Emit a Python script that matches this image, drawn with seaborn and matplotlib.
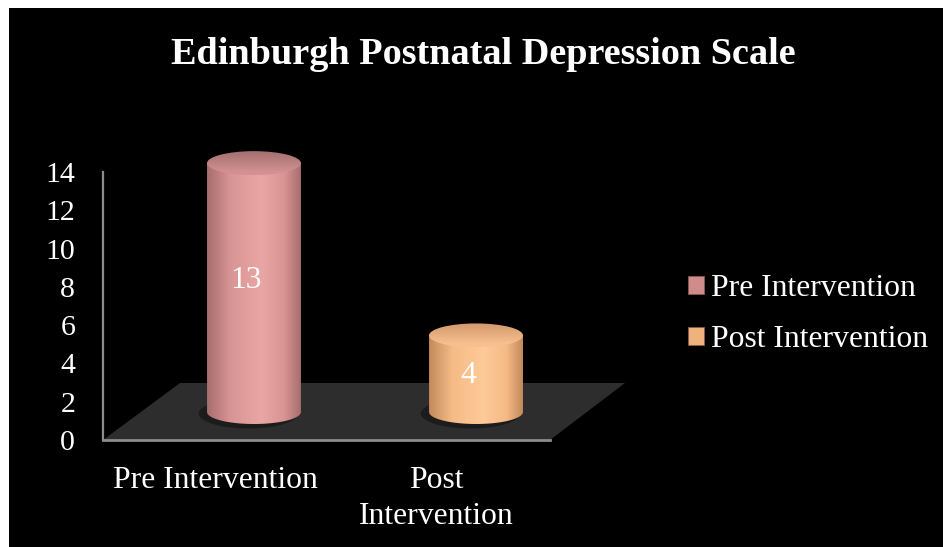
import numpy as np
import pandas as pd
import matplotlib
matplotlib.use("Agg")
import matplotlib.pyplot as plt
import seaborn as sns
from matplotlib.patches import Polygon, PathPatch, Ellipse, Rectangle, Patch
from matplotlib.path import Path
from matplotlib.colors import LinearSegmentedColormap

# ---------------- data ----------------
categories = ["Pre Intervention", "Post Intervention"]
tick_labels = ["Pre Intervention", "Post\nIntervention"]
scores = [13, 4]
title = "Edinburgh Postnatal Depression Scale"
y_ticks = [0, 2, 4, 6, 8, 10, 12, 14]

# ---------------- style ----------------
body_edge = ["#a66e6d", "#c38a5b"]
body_mid = ["#d99594", "#f6bb86"]
body_hi = ["#eaa6a5", "#fdca98"]
top_back = ["#a46f6f", "#d0986a"]
top_front = ["#d29291", "#f8c08f"]
legend_colors = ["#d08c8b", "#f0b27c"]

plt.rcParams["font.family"] = ["Liberation Serif", "DejaVu Serif"]

W, H = 943, 547
fig = plt.figure(figsize=(W / 100, H / 100), dpi=100)
fig.patch.set_facecolor("white")
fig.add_artist(Rectangle((9 / W, 0), (W - 9) / W, (H - 8) / H,
                         transform=fig.transFigure, facecolor="black",
                         edgecolor="none", zorder=-10))


def fpos(left, top, right, bottom):
    return [left / W, 1 - bottom / H, (right - left) / W, (bottom - top) / H]


# main axes: y scale, category labels, floor
ax = fig.add_axes(fpos(103, 172, 625, 440))
ax.set_facecolor("none")
ax.set_ylim(0, 14)
ax.set_yticks(y_ticks)
ax.set_yticklabels([str(t) for t in y_ticks])
ax.set_xlim(-0.5068, 1.855)
ax.set_xticks(range(len(categories)))
ax.set_xticklabels(tick_labels, linespacing=1.3)
ax.tick_params(axis="y", length=0, pad=20, labelsize=21.5, colors="white")
ax.tick_params(axis="x", length=0, pad=19, labelsize=22.8, colors="white")
for s in ["top", "right", "bottom"]:
    ax.spines[s].set_visible(False)
ax.spines["left"].set_color("#8c8c8c")
ax.spines["left"].set_linewidth(1.6)

floor = Polygon([(0, 0), (0.8563, 0), (1.0, 0.2127), (0.1475, 0.2127)],
                closed=True, transform=ax.transAxes, facecolor="#2d2d2d",
                edgecolor="none", zorder=0, clip_on=False)
ax.add_patch(floor)
ax.plot([0, 0.8563], [0, 0], transform=ax.transAxes, color="#8c8c8c",
        lw=2, clip_on=False, zorder=1)

# bar axes (3D depth shifted up); extends below zero so the base arc shows
px_per_y = 268 / 14.0
axb = fig.add_axes(fpos(103, 144, 625, 412 + 2 * px_per_y))
axb.set_facecolor("none")
axb.set_axis_off()
df = pd.DataFrame({"stage": categories, "score": scores})
sns.barplot(data=df, x="stage", y="score", hue="stage", palette=body_mid,
            width=0.423, ax=axb, legend=False)

b = 12.0 / px_per_y  # semi-minor of ellipse in data units

for i, p in enumerate(list(axb.patches)):
    x0, w, h = p.get_x(), p.get_width(), p.get_height()
    p.set_visible(False)
    cx = x0 + w / 2
    a = w / 2
    # soft shadow on the floor
    axb.add_patch(Ellipse((cx - 0.025, -0.08), w * 1.06, 2 * b * 1.25,
                          facecolor="#161616", edgecolor="none", alpha=0.7,
                          zorder=1))
    # body path
    t = np.linspace(np.pi, 2 * np.pi, 80)
    arc = np.column_stack([cx + a * np.cos(t), b * np.sin(t)])
    verts = np.vstack([[[x0, h]], arc, [[x0 + w, h]], [[x0, h]]])
    codes = [Path.MOVETO] + [Path.LINETO] * (len(verts) - 2) + [Path.CLOSEPOLY]
    body = PathPatch(Path(verts, codes), facecolor="none", edgecolor="none",
                     transform=axb.transData)
    axb.add_patch(body)
    cmap = LinearSegmentedColormap.from_list(
        "c%d" % i, [(0, body_edge[i]), (0.25, body_mid[i]), (0.58, body_hi[i]),
                    (0.82, body_mid[i]), (1, body_edge[i])])
    grad = np.linspace(0, 1, 256)[None, :]
    im = axb.imshow(grad, cmap=cmap, extent=[x0, x0 + w, -b, h],
                    aspect="auto", zorder=2, interpolation="bicubic")
    im.set_clip_path(body)
    # top face
    top = Ellipse((cx, h), w, 2 * b, facecolor="none", edgecolor="none",
                  transform=axb.transData)
    axb.add_patch(top)
    cmap2 = LinearSegmentedColormap.from_list(
        "t%d" % i, [(0, top_front[i]), (0.12, top_front[i]), (1, top_back[i])])
    vgrad = np.linspace(0, 1, 256)[:, None]
    im2 = axb.imshow(vgrad, cmap=cmap2, extent=[x0, x0 + w, h - b, h + b],
                     origin="lower", aspect="auto", zorder=3)
    im2.set_clip_path(top)
    # value label
    axb.text(cx - 8 / 222, 0.55 * h - 0.3, str(scores[i]), ha="center",
             va="center", color="white", fontsize=22.8, zorder=5)

axb.set_xlim(-0.680, 1.671)
axb.set_ylim(-2, 14)

# title
fig.text(483 / W, 1 - 54 / H, title, ha="center", va="center",
         color="white", fontsize=27.5, fontweight="bold")

# legend
handles = [Patch(facecolor=legend_colors[i], edgecolor="#8a5a50",
                 linewidth=0.6) for i in range(len(categories))]
leg = fig.legend(handles, categories, loc="center left",
                 bbox_to_anchor=(688 / W, 1 - 314 / H), frameon=False,
                 fontsize=22.8, handlelength=0.5, handleheight=0.5,
                 handletextpad=0.22, labelspacing=0.7, borderpad=0,
                 borderaxespad=0)
for t in leg.get_texts():
    t.set_color("white")

fig.savefig("out.png", dpi=100, facecolor=fig.get_facecolor())
